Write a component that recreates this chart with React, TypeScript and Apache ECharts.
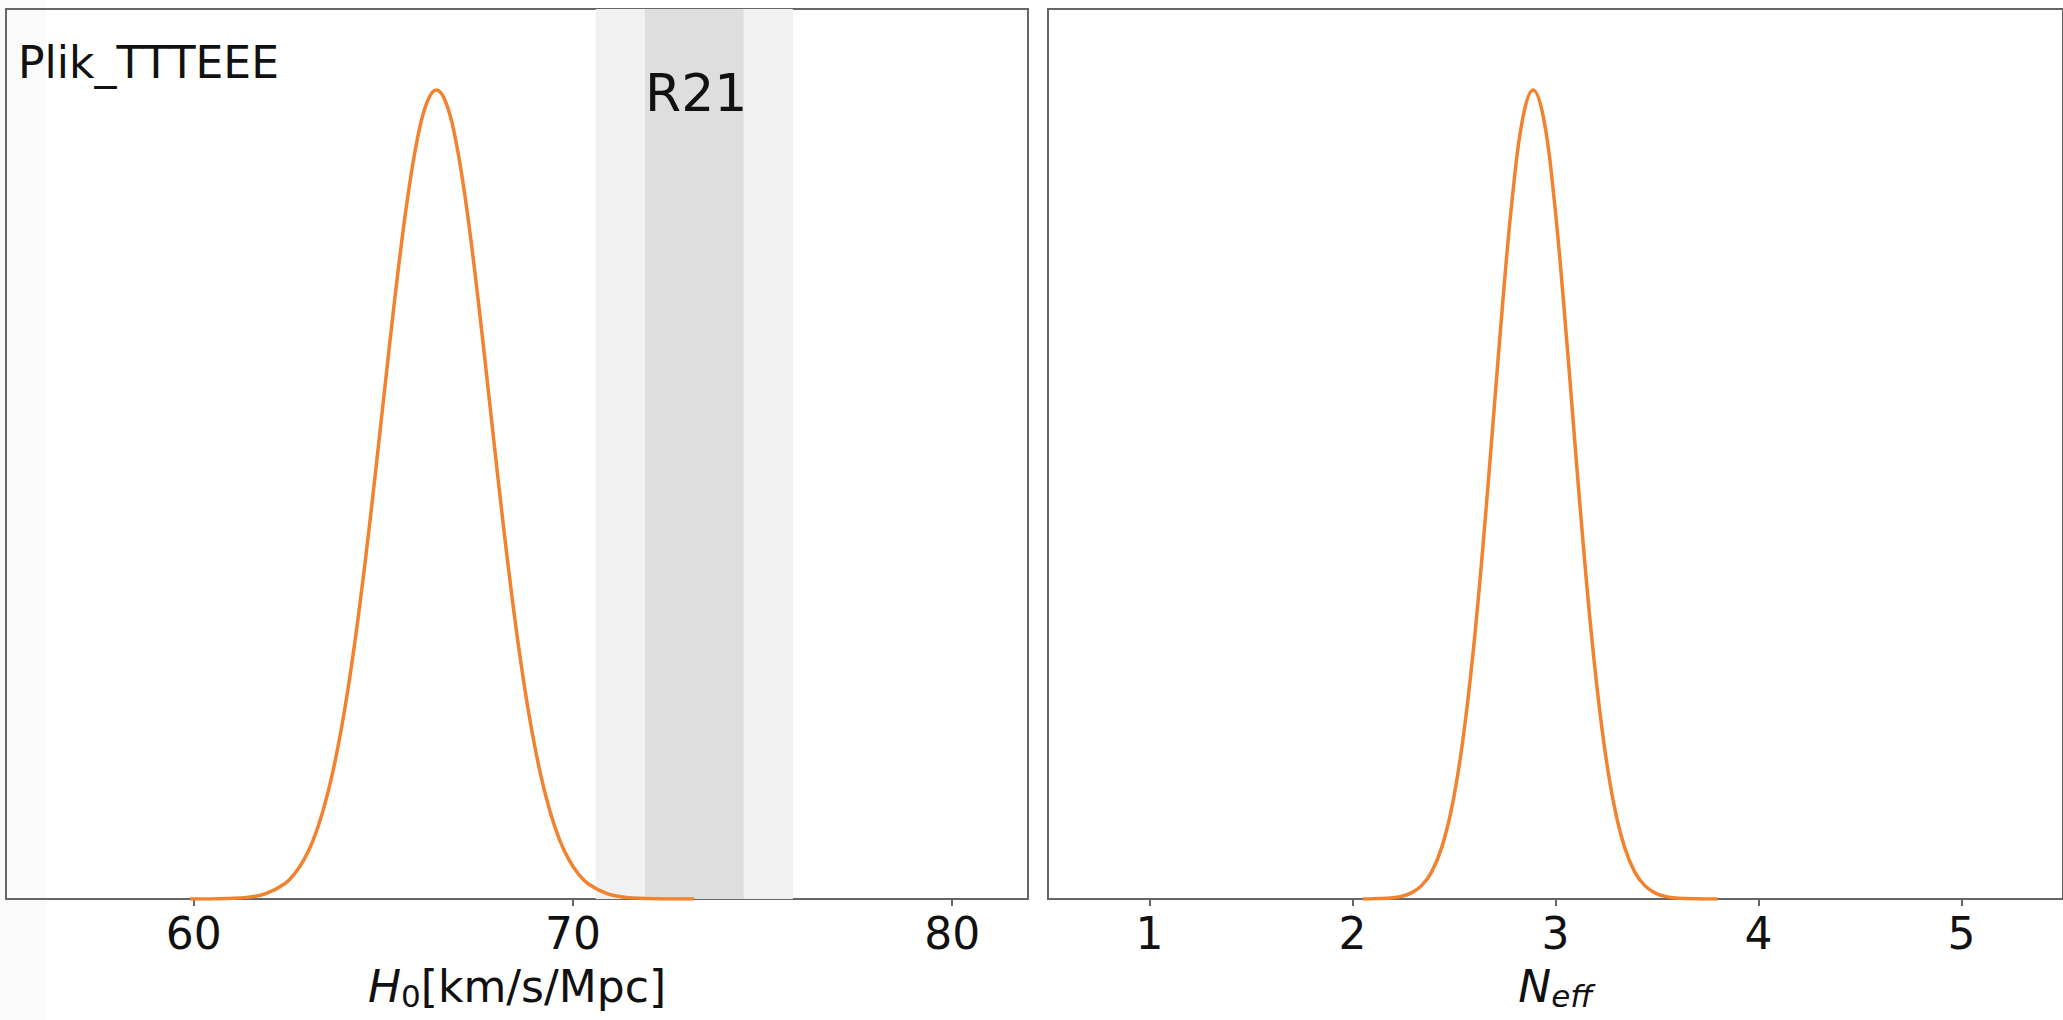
import React, { useEffect, useRef } from "react";
import * as echarts from "echarts";

// H0 posterior (Plik_TTTEEE), normalised to peak = 1
const h0X = [59.9, 60.4, 60.9, 61.4, 61.9, 62.4, 62.65, 62.9, 63.15, 63.4, 63.65, 63.9, 64.15, 64.4, 64.65, 64.9, 65.15, 65.4, 65.65, 65.9, 66.15, 66.4, 66.65, 66.9, 67.15, 67.4, 67.65, 67.9, 68.15, 68.4, 68.65, 68.9, 69.15, 69.4, 69.65, 69.9, 70.15, 70.4, 70.9, 71.4, 71.9, 72.4, 72.9, 73.2];
const h0Y = [0.00003, 0.0001, 0.0006, 0.002, 0.0066, 0.0189, 0.0306, 0.048, 0.0729, 0.1074, 0.1533, 0.2123, 0.285, 0.3709, 0.468, 0.5724, 0.6788, 0.7804, 0.8698, 0.9399, 0.9846, 1, 0.9846, 0.9399, 0.8698, 0.7804, 0.6788, 0.5724, 0.468, 0.3709, 0.285, 0.2123, 0.1533, 0.1074, 0.0729, 0.048, 0.0306, 0.0189, 0.0066, 0.002, 0.0006, 0.0001, 0.00003, 0.00001];

// Neff posterior, normalised to peak = 1
const neffX = [2.05, 2.09, 2.14, 2.19, 2.24, 2.29, 2.34, 2.39, 2.44, 2.49, 2.54, 2.59, 2.64, 2.69, 2.74, 2.79, 2.84, 2.89, 2.94, 2.99, 3.04, 3.09, 3.14, 3.19, 3.24, 3.29, 3.34, 3.39, 3.44, 3.49, 3.54, 3.59, 3.64, 3.69, 3.74, 3.8];
const neffY = [0.0001, 0.0002, 0.0005, 0.0013, 0.0032, 0.0076, 0.0165, 0.0336, 0.0641, 0.1141, 0.1897, 0.2949, 0.4283, 0.5812, 0.7369, 0.8731, 0.9667, 1, 0.9667, 0.8731, 0.7369, 0.5812, 0.4283, 0.2949, 0.1897, 0.1141, 0.0641, 0.0336, 0.0165, 0.0076, 0.0032, 0.0013, 0.0005, 0.0002, 0.0001, 0.00001];

// R21 band (73.2 ± 1.3): 1σ and 2σ
const r21Outer = [70.6, 75.8];
const r21Inner = [71.9, 74.5];

const h0Ticks = [60, 70, 80];
const neffTicks = [1, 2, 3, 4, 5];

const FONT = "DejaVu Sans";
const ORANGE = "#f2822d";
const FRAME = "#666666";

export default function App() {
  const ref = useRef<HTMLDivElement>(null);
  useEffect(() => {
    if (!ref.current) return;
    const chart = echarts.init(ref.current, null, { renderer: "svg" });
    const xAxisCommon = (gridIndex: number, min: number, max: number, ticks: number[], name: string) => ({
      type: "value",
      gridIndex,
      min,
      max,
      splitLine: { show: false },
      axisLine: { show: false },
      axisTick: { show: true, length: 7, customValues: ticks, lineStyle: { color: FRAME, width: 2 } },
      axisLabel: {
        customValues: ticks,
        fontFamily: FONT,
        fontSize: 44,
        color: "#111",
        margin: 12,
      },
      name,
      nameLocation: "middle",
      nameGap: 62,
      nameTextStyle: {
        fontFamily: FONT,
        fontSize: 44,
        color: "#111",
        rich: {
          i: { fontFamily: FONT, fontSize: 44, fontStyle: "italic", color: "#111", lineHeight: 50 },
          n: { fontFamily: FONT, fontSize: 44, color: "#111", lineHeight: 50 },
          sub: { fontFamily: FONT, fontSize: 31, color: "#111", verticalAlign: "bottom", lineHeight: 50, padding: [16, 0, 0, 0] },
          isub: { fontFamily: FONT, fontSize: 31, fontStyle: "italic", color: "#111", verticalAlign: "bottom", lineHeight: 50, padding: [16, 0, 0, 0] },
        },
      },
    });
    const yAxisCommon = (gridIndex: number) => ({
      type: "value",
      gridIndex,
      min: 0,
      max: 1.1,
      show: false,
      splitLine: { show: false },
    });
    chart.setOption({
      animation: false,
      backgroundColor: "#ffffff",
      grid: [
        { left: 6, top: 9, width: 1022, height: 890, show: true, borderColor: FRAME, borderWidth: 2, backgroundColor: "transparent" },
        { left: 1048, top: 9, width: 1022, height: 890, show: true, borderColor: FRAME, borderWidth: 2, backgroundColor: "transparent" },
      ],
      xAxis: [
        xAxisCommon(0, 55.05, 82.0, h0Ticks, "{i|H}{sub|0}{n|[km/s/Mpc]}"),
        xAxisCommon(1, 0.5, 5.5, neffTicks, "{i|N}{isub|eff}"),
      ],
      yAxis: [yAxisCommon(0), yAxisCommon(1)],
      graphic: [
        { type: "rect", z: -10, shape: { x: 0, y: 0, width: 46, height: 1020 }, style: { fill: "#fafafa" }, silent: true },
        {
          type: "text",
          left: 18,
          top: 40,
          z: 10,
          style: { text: "Plik_TTTEEE", fontFamily: FONT, fontSize: 44, fill: "#111" },
        },
        {
          type: "text",
          left: 645,
          top: 67,
          z: 10,
          style: { text: "R21", fontFamily: FONT, fontSize: 52, fill: "#111" },
        },
      ],
      series: [
        {
          type: "line",
          xAxisIndex: 0,
          yAxisIndex: 0,
          data: [],
          z: 1,
          silent: true,
          markArea: {
            silent: true,
            data: [
              [{ xAxis: r21Outer[0], itemStyle: { color: "#f1f1f1" } }, { xAxis: r21Outer[1] }],
              [{ xAxis: r21Inner[0], itemStyle: { color: "#dedede" } }, { xAxis: r21Inner[1] }],
            ],
          },
        },
        {
          type: "line",
          xAxisIndex: 0,
          yAxisIndex: 0,
          z: 5,
          data: h0X.map((x, i) => [x, h0Y[i]]),
          showSymbol: false,
          smooth: 0.4,
          lineStyle: { color: ORANGE, width: 3.5 },
        },
        {
          type: "line",
          xAxisIndex: 1,
          yAxisIndex: 1,
          z: 5,
          data: neffX.map((x, i) => [x, neffY[i]]),
          showSymbol: false,
          smooth: 0.4,
          lineStyle: { color: ORANGE, width: 3.5 },
        },
      ],
    });
    return () => chart.dispose();
  }, []);
  return (
    <div
      ref={ref}
      style={{ position: "fixed", left: 0, top: 0, width: 2063, height: 1020, overflow: "hidden" }}
    />
  );
}
